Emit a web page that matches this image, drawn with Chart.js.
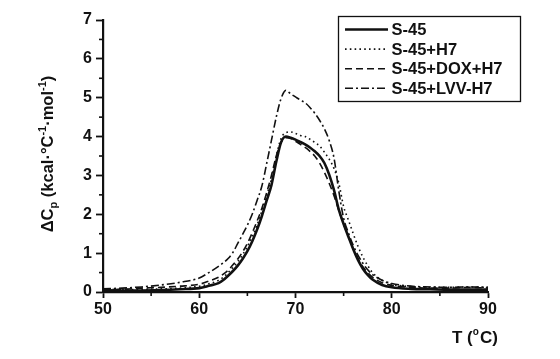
<!DOCTYPE html>
<html>
<head>
<meta charset="utf-8">
<script src="https://cdn.jsdelivr.net/npm/chart.js@4.4.1/dist/chart.umd.min.js"></script>
<style>
  html, body { margin: 0; padding: 0; background: #fff; }
  #wrap { width: 560px; height: 359px; position: relative; }
</style>
</head>
<body>
<div id="wrap"><canvas id="c" width="560" height="359"></canvas></div>
<script>
// Temperature grid (°C)
const temps = [50,52,54,56,58,60,61,62,62.5,63,63.5,64,64.5,65,65.5,66,66.5,67,67.5,68,68.5,69,69.5,70,70.5,71,71.5,72,72.5,73,73.5,74,74.5,75,75.5,76,76.5,77,77.5,78,79,80,82,84,86,88,90];

// ΔCp values (kcal·°C⁻¹·mol⁻¹)
const s45 = [0.05,0.04,0.04,0.05,0.07,0.10,0.16,0.23,0.31,0.42,0.54,0.68,0.85,1.05,1.30,1.60,1.95,2.35,2.75,3.35,3.85,4.00,3.97,3.92,3.86,3.80,3.72,3.62,3.50,3.32,3.02,2.62,2.12,1.75,1.42,1.10,0.82,0.60,0.44,0.32,0.18,0.12,0.08,0.07,0.06,0.06,0.06];
const s45H7 = [0.08,0.06,0.07,0.08,0.10,0.15,0.21,0.30,0.38,0.50,0.63,0.78,0.96,1.17,1.42,1.72,2.08,2.48,2.90,3.50,3.95,4.10,4.12,4.08,4.03,4.00,3.93,3.85,3.76,3.60,3.42,3.18,2.80,2.20,1.85,1.50,1.17,0.90,0.68,0.50,0.30,0.20,0.14,0.12,0.12,0.13,0.12];
const s45DoxH7 = [0.06,0.07,0.10,0.12,0.15,0.20,0.28,0.38,0.46,0.56,0.70,0.85,1.03,1.25,1.52,1.82,2.15,2.55,3.00,3.50,3.85,3.97,3.95,3.88,3.80,3.72,3.62,3.50,3.32,3.08,2.80,2.48,2.10,1.75,1.42,1.12,0.86,0.65,0.50,0.38,0.24,0.17,0.12,0.10,0.10,0.12,0.10];
const s45LvvH7 = [0.08,0.10,0.13,0.18,0.25,0.36,0.50,0.66,0.75,0.86,1.02,1.25,1.48,1.72,2.00,2.35,2.72,3.30,3.90,4.50,4.98,5.19,5.10,5.02,4.94,4.87,4.75,4.60,4.42,4.20,3.90,3.45,2.60,1.90,1.52,1.20,0.94,0.74,0.57,0.45,0.30,0.22,0.15,0.13,0.12,0.13,0.12];

const seriesNames = ['S-45','S-45+H7','S-45+DOX+H7','S-45+LVV-H7'];
const xTicks = [50,60,70,80,90];
const yTicks = [0,1,2,3,4,5,6,7];

const toPts = arr => temps.map((t,i) => ({x:t, y:arr[i]}));
const styles = [
  {borderWidth:2.6, borderDash:[]},
  {borderWidth:1.6, borderDash:[1.6,3.2]},
  {borderWidth:1.6, borderDash:[7,4]},
  {borderWidth:1.6, borderDash:[8,3,2,3]}
];
const seriesData = [s45, s45H7, s45DoxH7, s45LvvH7];
const datasets = seriesData.map((d,i) => ({
  label: seriesNames[i],
  data: toPts(d),
  borderColor:'#111',
  backgroundColor:'#111',
  borderWidth: styles[i].borderWidth,
  borderDash: styles[i].borderDash,
  pointRadius:0,
  tension:0.35,
  cubicInterpolationMode:'monotone',
  fill:false
}));

const FONT = '"Liberation Sans", Arial, sans-serif';

const decor = {
  id:'decor',
  afterDraw(chart){
    const ctx = chart.ctx;
    const xs = chart.scales.x, ys = chart.scales.y;
    const ca = chart.chartArea;
    ctx.save();
    ctx.strokeStyle = '#111';
    ctx.lineWidth = 1.6;
    // minor ticks
    for (let v = 55; v < 90; v += 10) {
      const px = xs.getPixelForValue(v);
      ctx.beginPath(); ctx.moveTo(px, ca.bottom); ctx.lineTo(px, ca.bottom + 4); ctx.stroke();
    }
    for (let v = 0.5; v < 7; v += 1) {
      const py = ys.getPixelForValue(v);
      ctx.beginPath(); ctx.moveTo(ca.left, py); ctx.lineTo(ca.left - 4, py); ctx.stroke();
    }
    // y-axis title with sub/superscripts
    const parts = [['ΔC',0],['p',-1],[' (kcal·°C',0],['-1',1],['·mol',0],['-1',1],[')',0]];
    const big = 'bold 16.5px ' + FONT, small = 'bold 11px ' + FONT;
    let total = 0;
    parts.forEach(p => { ctx.font = p[1] ? small : big; total += ctx.measureText(p[0]).width; });
    ctx.translate(47, (ca.top + ca.bottom)/2 - 2);
    ctx.rotate(-Math.PI/2);
    ctx.fillStyle = '#111';
    ctx.textBaseline = 'alphabetic';
    let x = -total/2;
    parts.forEach(p => {
      ctx.font = p[1] ? small : big;
      const dy = p[1] === -1 ? 4 : (p[1] === 1 ? -7 : 0);
      ctx.fillText(p[0], x, 6 + dy);
      x += ctx.measureText(p[0]).width;
    });
    ctx.restore();

    // x-axis title
    ctx.save();
    ctx.fillStyle = '#111';
    ctx.textBaseline = 'alphabetic';
    let xt = 452;
    const xparts = [['T (',0],['o',1],['C)',0]];
    xparts.forEach(p => {
      ctx.font = p[1] ? 'bold 10px ' + FONT : 'bold 17px ' + FONT;
      ctx.fillText(p[0], xt, 343 + (p[1] ? -8 : 0));
      xt += ctx.measureText(p[0]).width + (p[1] ? 1 : 0);
    });
    ctx.restore();

    // legend
    ctx.save();
    const lx = 338.5, ly = 16.5, lw = 182, lh = 85;
    ctx.fillStyle = '#fff';
    ctx.fillRect(lx, ly, lw, lh);
    ctx.strokeStyle = '#111';
    ctx.lineWidth = 1.3;
    ctx.strokeRect(lx, ly, lw, lh);
    chart.data.datasets.forEach((ds, i) => {
      const yy = 29.5 + i * 19.6;
      ctx.save();
      ctx.strokeStyle = ds.borderColor;
      ctx.lineWidth = ds.borderWidth;
      ctx.setLineDash(ds.borderDash);
      ctx.beginPath(); ctx.moveTo(345, yy); ctx.lineTo(388, yy); ctx.stroke();
      ctx.restore();
      ctx.fillStyle = '#111';
      ctx.font = 'bold 16.5px ' + FONT;
      ctx.textBaseline = 'middle';
      ctx.fillText(ds.label, 391.5, yy + 1);
    });
    ctx.restore();
  }
};

new Chart(document.getElementById('c'), {
  type:'line',
  data:{ datasets },
  plugins:[decor],
  options:{
    responsive:false,
    animation:false,
    devicePixelRatio:1,
    layout:{ padding:{ left:0, top:20, right:72, bottom:0 } },
    plugins:{ legend:{display:false}, tooltip:{enabled:false} },
    scales:{
      x:{
        type:'linear', min:50, max:90,
        afterBuildTicks: s => { s.ticks = xTicks.map(v => ({value:v})); },
        afterFit: s => { s.height = 67; },
        grid:{ display:true, drawOnChartArea:false, drawTicks:true, tickLength:6, tickWidth:1.8, color:'#111' },
        border:{ display:true, color:'#111', width:2.2 },
        ticks:{ color:'#111', font:{ family:FONT, size:16, weight:'bold' }, padding:2, maxRotation:0 }
      },
      y:{
        type:'linear', min:0, max:7,
        afterBuildTicks: s => { s.ticks = yTicks.map(v => ({value:v})); },
        afterFit: s => { s.width = 103; },
        grid:{ display:true, drawOnChartArea:false, drawTicks:true, tickLength:7, tickWidth:1.8, color:'#111' },
        border:{ display:true, color:'#111', width:2.2 },
        ticks:{ color:'#111', font:{ family:FONT, size:16, weight:'bold' }, padding:4 }
      }
    }
  }
});
</script>
</body>
</html>
